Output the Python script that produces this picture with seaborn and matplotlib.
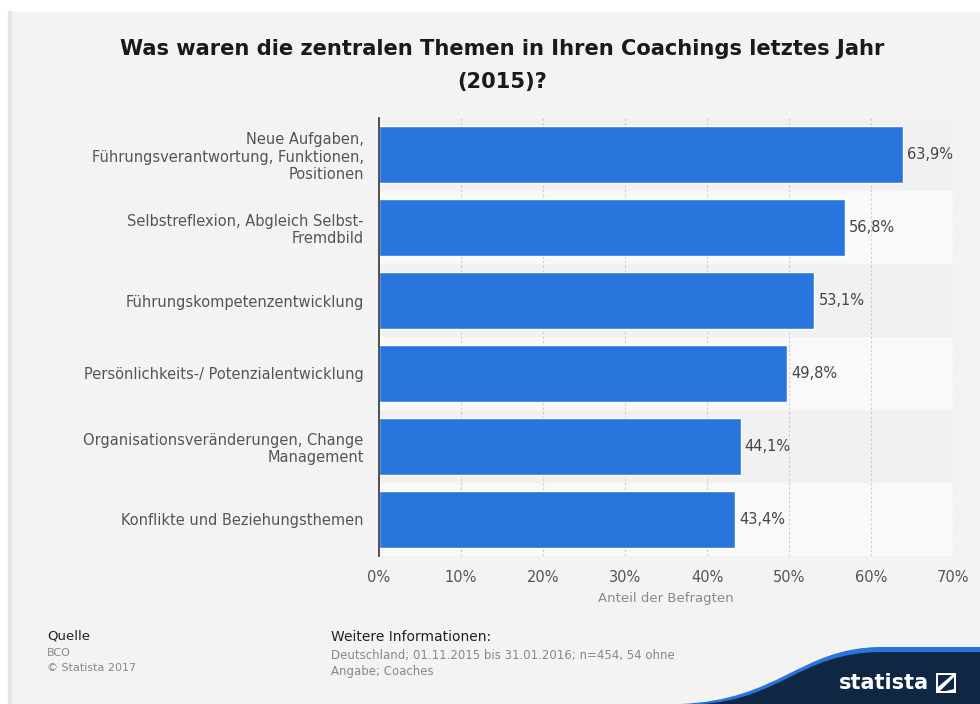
import matplotlib
matplotlib.use("Agg")
import matplotlib.pyplot as plt
import seaborn as sns
import pandas as pd
import numpy as np
from matplotlib.path import Path
from matplotlib.patches import PathPatch, Rectangle, Polygon

categories = [
    "Neue Aufgaben,\nFührungsverantwortung, Funktionen,\nPositionen",
    "Selbstreflexion, Abgleich Selbst-\nFremdbild",
    "Führungskompetenzentwicklung",
    "Persönlichkeits-/ Potenzialentwicklung",
    "Organisationsveränderungen, Change\nManagement",
    "Konflikte und Beziehungsthemen",
]
values = [63.9, 56.8, 53.1, 49.8, 44.1, 43.4]
xticks = [0, 10, 20, 30, 40, 50, 60, 70]
xticklabels = ["0%", "10%", "20%", "30%", "40%", "50%", "60%", "70%"]

df = pd.DataFrame({"Thema": categories, "Wert": values})

sns.set_theme(style="white")
plt.rcParams["font.family"] = ["DejaVu Sans"]

W, H = 980, 704
fig = plt.figure(figsize=(W / 100, H / 100), dpi=100)
fig.patch.set_facecolor("#f3f3f3")
# white frame strips top and left
fig.add_artist(Rectangle((0, 1 - 11 / H), 1, 11 / H, transform=fig.transFigure, color="white", zorder=0))
fig.add_artist(Rectangle((0, 0), 8 / W, 1, transform=fig.transFigure, color="white", zorder=0))
fig.add_artist(Rectangle((8 / W, 0), 3 / W, 1 - 11 / H, transform=fig.transFigure, color="#e6e6e6", zorder=0))

ax_l, ax_r, ax_t, ax_b = 379, 953, 118, 556
ax = fig.add_axes([ax_l / W, 1 - ax_b / H, (ax_r - ax_l) / W, (ax_b - ax_t) / H])
ax.set_facecolor("#f3f3f3")

n = len(categories)
for i in range(n):
    ax.axhspan(i - 0.5, i + 0.5, color="#f1f1f1" if i % 2 == 0 else "#f9f9f9", zorder=0, lw=0)

sns.barplot(data=df, x="Wert", y="Thema", orient="h", color="#2876dd",
            saturation=1, width=0.77, ax=ax, zorder=3)

for xv in xticks[1:]:
    ax.axvline(xv, color="#cccccc", lw=0.8, ls=(0, (2, 2)), zorder=1)

ax.set_xlim(0, 70)
ax.set_ylim(n - 0.5, -0.5)
ax.set_xticks(xticks)
ax.set_xticklabels(xticklabels, color="#555555", fontsize=10.5)
ax.tick_params(axis="x", length=0, pad=10)
ax.tick_params(axis="y", length=0, pad=11)
for lab in ax.get_yticklabels():
    lab.set_color("#555555")
    lab.set_fontsize(10.5)
    lab.set_horizontalalignment("right")
    lab.set_multialignment("right")
    lab.set_linespacing(1.2)
ax.set_ylabel("")
ax.set_xlabel("Anteil der Befragten", color="#888888", fontsize=9.5, labelpad=5)

for s in ["top", "right", "bottom"]:
    ax.spines[s].set_visible(False)
ax.spines["left"].set_color("#333333")
ax.spines["left"].set_linewidth(1.2)
ax.spines["left"].set_zorder(5)

for i, v in enumerate(values):
    ax.text(v + 0.5, i, f"{v:.1f}%".replace(".", ","), va="center", ha="left",
            color="#444444", fontsize=10.5, zorder=4)

fig.text(502 / W, 1 - 49 / H, "Was waren die zentralen Themen in Ihren Coachings letztes Jahr",
         ha="center", va="center", fontsize=15.1, fontweight="bold", color="#1a1a1a")
fig.text(502 / W, 1 - 82 / H, "(2015)?", ha="center", va="center", fontsize=15.1,
         fontweight="bold", color="#1a1a1a")

fig.text(47 / W, 1 - 636 / H, "Quelle", fontsize=9.5, color="#222222", va="center")
fig.text(47 / W, 1 - 653 / H, "BCO", fontsize=8, color="#888888", va="center")
fig.text(47 / W, 1 - 668 / H, "© Statista 2017", fontsize=8, color="#888888", va="center")
fig.text(331 / W, 1 - 637 / H, "Weitere Informationen:", fontsize=10, color="#222222", va="center")
fig.text(331 / W, 1 - 656 / H, "Deutschland; 01.11.2015 bis 31.01.2016; n=454, 54 ohne",
         fontsize=8.5, color="#888888", va="center")
fig.text(331 / W, 1 - 672 / H, "Angabe; Coaches", fontsize=8.5, color="#888888", va="center")

# statista logo
def fy(y):
    return 1 - y / H
def fx(x):
    return x / W

def swoosh(x0, ytop_off, color):
    verts = [(fx(x0), fy(704)),
             (fx(780), fy(700)), (fx(800), fy(648 + ytop_off)), (fx(880), fy(647 + ytop_off)),
             (fx(980), fy(647 + ytop_off)), (fx(980), fy(704)), (fx(x0), fy(704))]
    codes = [Path.MOVETO, Path.CURVE4, Path.CURVE4, Path.CURVE4, Path.LINETO, Path.LINETO, Path.CLOSEPOLY]
    return PathPatch(Path(verts, codes), transform=fig.transFigure, facecolor=color, lw=0, zorder=1)

fig.add_artist(swoosh(680, 0, "#2876dd"))
fig.add_artist(swoosh(700, 5, "#0f2742"))
fig.text(fx(839), fy(683), "statista", fontsize=15, fontweight="bold", color="white",
         va="center", ha="left", zorder=3)
fig.add_artist(Rectangle((fx(936), fy(693)), 20 / W, 20 / H, transform=fig.transFigure,
                         facecolor="white", lw=0, zorder=3))
fig.add_artist(Polygon([(fx(940), fy(691)), (fx(954), fy(677)), (fx(954), fy(689)),
                        (fx(946), fy(691))], closed=True, transform=fig.transFigure,
                       facecolor="#0f2742", lw=0, zorder=4))
fig.add_artist(Polygon([(fx(938), fy(687)), (fx(952), fy(675)), (fx(938), fy(675))], closed=True,
                       transform=fig.transFigure, facecolor="#0f2742", lw=0, zorder=4))

fig.savefig("out.png", dpi=100, facecolor=fig.get_facecolor())
